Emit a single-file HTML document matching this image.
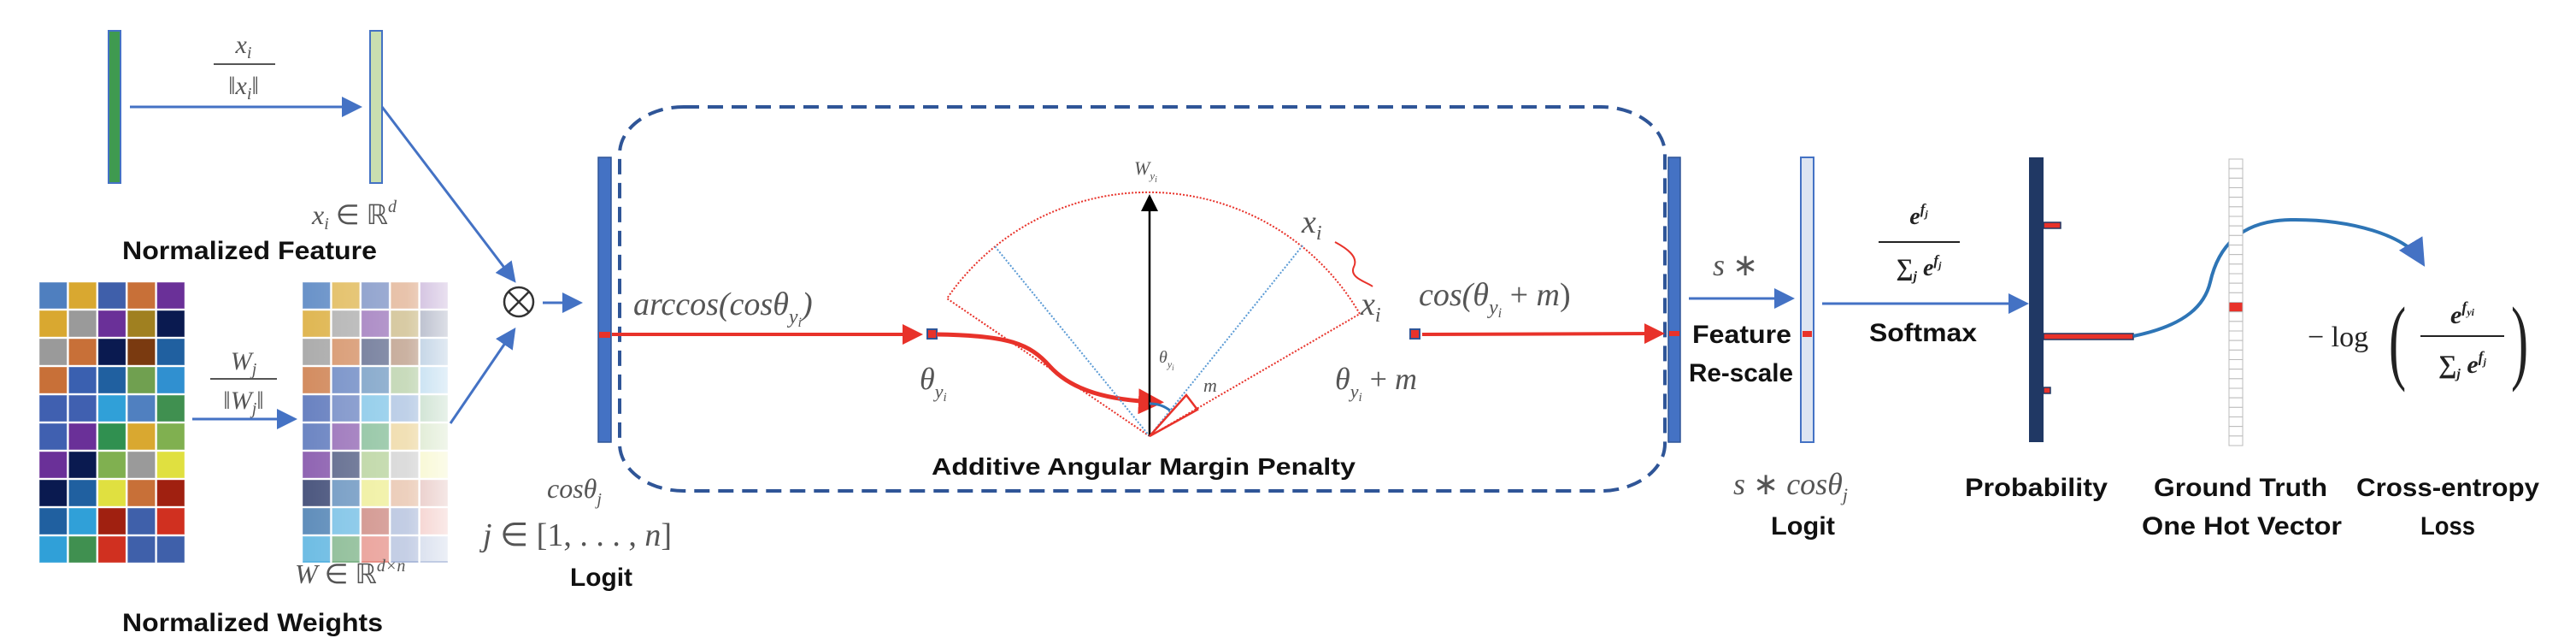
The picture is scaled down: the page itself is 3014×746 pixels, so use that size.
<!DOCTYPE html>
<html><head><meta charset="utf-8"><style>
html,body{margin:0;padding:0;background:#fff}
svg{display:block}
.m{font-family:"Liberation Serif",serif;font-style:italic;fill:#555}
.b{font-family:"Liberation Sans",sans-serif;font-weight:bold;fill:#111}
</style></head><body>
<svg id="fig" width="3014" height="746" viewBox="0 0 3014 746" xmlns="http://www.w3.org/2000/svg">
<defs>
<marker id="ab" markerWidth="8" markerHeight="8" refX="6" refY="4" orient="auto" markerUnits="strokeWidth"><path d="M0,0 L8,4 L0,8 z" fill="#4472c4"/></marker>
<marker id="ar" markerWidth="6" markerHeight="6" refX="4" refY="3" orient="auto" markerUnits="strokeWidth"><path d="M0,0 L6,3 L0,6 z" fill="#e8322a"/></marker>
<marker id="ak" markerWidth="8" markerHeight="8" refX="6" refY="4" orient="auto" markerUnits="strokeWidth"><path d="M0,0 L8,4 L0,8 z" fill="#000"/></marker>
<linearGradient id="fade" x1="0" y1="0" x2="1" y2="0"><stop offset="0" stop-color="#fff" stop-opacity="0.15"/><stop offset="0.7" stop-color="#fff" stop-opacity="0.35"/><stop offset="1" stop-color="#fff" stop-opacity="0.75"/></linearGradient>
</defs>

<!-- Feature vectors -->
<rect x="127" y="36" width="14" height="178" fill="#3f9a50" stroke="#4472c4" stroke-width="2"/>
<rect x="433" y="36" width="14" height="178" fill="#c9dfb0" stroke="#4472c4" stroke-width="2"/>
<line x1="152" y1="125" x2="418" y2="125" stroke="#4472c4" stroke-width="3" marker-end="url(#ab)"/>
<text class="m" x="285" y="62" font-size="30" text-anchor="middle">x<tspan font-size="20" dy="6">i</tspan></text>
<line x1="250" y1="75" x2="322" y2="75" stroke="#555" stroke-width="2"/>
<text class="m" x="285" y="110" font-size="30" text-anchor="middle">‖x<tspan font-size="20" dy="6">i</tspan><tspan dy="-6">‖</tspan></text>
<text class="m" x="365" y="262" font-size="32">x<tspan font-size="20" dy="6">i</tspan><tspan dy="-6" font-style="normal"> ∈ ℝ</tspan><tspan font-size="20" dy="-14">d</tspan></text>
<text class="b" x="143" y="303" font-size="30" textLength="298" lengthAdjust="spacingAndGlyphs">Normalized Feature</text>

<!-- Weight matrices -->
<g id="matL"></g>
<g id="matR"></g>
<rect x="354" y="330" width="174" height="326" fill="url(#fade)"/>
<line x1="225" y1="490" x2="342" y2="490" stroke="#4472c4" stroke-width="3" marker-end="url(#ab)"/>
<text class="m" x="285" y="432" font-size="30" text-anchor="middle">W<tspan font-size="20" dy="6">j</tspan></text>
<line x1="246" y1="443" x2="324" y2="443" stroke="#555" stroke-width="2"/>
<text class="m" x="285" y="478" font-size="30" text-anchor="middle">‖W<tspan font-size="20" dy="6">j</tspan><tspan dy="-6">‖</tspan></text>
<text class="m" x="345" y="682" font-size="32">W <tspan font-style="normal">∈ ℝ</tspan><tspan font-size="20" dy="-14">d×n</tspan></text>
<text class="b" x="143" y="738" font-size="30" textLength="305" lengthAdjust="spacingAndGlyphs">Normalized Weights</text>

<!-- product -->
<line x1="447" y1="125" x2="600" y2="326" stroke="#4472c4" stroke-width="3" marker-end="url(#ab)"/>
<line x1="527" y1="495" x2="600" y2="388" stroke="#4472c4" stroke-width="3" marker-end="url(#ab)"/>
<g><circle cx="607" cy="353" r="17" fill="none" stroke="#333" stroke-width="2.5"/><line x1="595" y1="341" x2="619" y2="365" stroke="#333" stroke-width="2.5"/><line x1="619" y1="341" x2="595" y2="365" stroke="#333" stroke-width="2.5"/></g>
<line x1="635" y1="354" x2="676" y2="354" stroke="#4472c4" stroke-width="3" marker-end="url(#ab)"/>

<!-- logit bar -->
<rect x="700" y="184" width="15" height="333" fill="#4472c4" stroke="#2f5597" stroke-width="1.5"/>
<rect x="701" y="388" width="13" height="7" fill="#e8322a"/>
<text class="m" x="640" y="582" font-size="32">cosθ<tspan font-size="20" dy="8">j</tspan></text>
<text class="m" x="565" y="638" font-size="38">j <tspan font-style="normal">∈ [1, . . . , </tspan>n<tspan font-style="normal">]</tspan></text>
<text class="b" x="667" y="685" font-size="30" textLength="73" lengthAdjust="spacingAndGlyphs">Logit</text>

<!-- dashed box -->
<rect x="725" y="125" width="1223" height="449" rx="75" ry="55" fill="none" stroke="#2f5597" stroke-width="4" stroke-dasharray="18 10"/>
<text class="m" x="741" y="368" font-size="38">arccos(cosθ<tspan font-size="24" dy="10">y</tspan><tspan font-size="16" dy="4">i</tspan><tspan dy="-14">)</tspan></text>
<line x1="716" y1="391" x2="1072" y2="391" stroke="#e8322a" stroke-width="4" marker-end="url(#ar)"/>
<rect x="1085" y="385" width="11" height="11" fill="#e8322a" stroke="#2f5597" stroke-width="2"/>
<text class="m" x="1076" y="455" font-size="36">θ<tspan font-size="22" dy="10">y</tspan><tspan font-size="15" dy="4">i</tspan></text>
<path d="M1096,391 C1180,392 1205,402 1228,428 C1255,458 1300,468 1352,470" fill="none" stroke="#e8322a" stroke-width="5" marker-end="url(#ar)"/>

<!-- fan -->
<g>
<path d="M1345,510 L1108,349 A286,286 0 0 1 1591,367 Z" fill="none" stroke="#e8322a" stroke-width="2" stroke-dasharray="2 2"/>
<line x1="1345" y1="510" x2="1164" y2="288" stroke="#5b9bd5" stroke-width="2" stroke-dasharray="2 2"/>
<line x1="1345" y1="510" x2="1525" y2="286" stroke="#5b9bd5" stroke-width="2" stroke-dasharray="2 2"/>
<line x1="1345" y1="510" x2="1345" y2="232" stroke="#000" stroke-width="2.5" marker-end="url(#ak)"/>
<path d="M1345,472 A38,38 0 0 1 1369,480" fill="none" stroke="#2e75b6" stroke-width="3"/>
<path d="M1345,510 L1388,462 L1401,479 Z" fill="none" stroke="#e8322a" stroke-width="2.5"/>
</g>
<text class="m" x="1327" y="204" font-size="22" font-style="normal">W<tspan font-size="13" dy="6">y</tspan><tspan font-size="10" dy="3">i</tspan></text>
<text class="m" x="1356" y="424" font-size="20">θ<tspan font-size="12" dy="6">y</tspan><tspan font-size="9" dy="3">i</tspan></text>
<text class="m" x="1408" y="458" font-size="22">m</text>
<text class="m" x="1523" y="272" font-size="38">x<tspan font-size="24" dy="8">i</tspan></text>
<path d="M1562,283 C1575,290 1590,300 1584,312 C1578,325 1600,330 1606,335" fill="none" stroke="#e8322a" stroke-width="2"/>
<text class="m" x="1592" y="368" font-size="38">x<tspan font-size="24" dy="8">i</tspan></text>
<text class="m" x="1660" y="357" font-size="38">cos(θ<tspan font-size="24" dy="10">y</tspan><tspan font-size="16" dy="4">i</tspan><tspan dy="-14" font-style="normal"> + </tspan>m<tspan font-style="normal">)</tspan></text>
<text class="m" x="1562" y="455" font-size="36">θ<tspan font-size="22" dy="10">y</tspan><tspan font-size="15" dy="4">i</tspan><tspan dy="-14" font-style="normal"> + </tspan>m</text>
<rect x="1650" y="385" width="11" height="11" fill="#e8322a" stroke="#2f5597" stroke-width="2"/>
<line x1="1664" y1="391" x2="1940" y2="390" stroke="#e8322a" stroke-width="4" marker-end="url(#ar)"/>
<text class="b" x="1090" y="555" font-size="28" textLength="496" lengthAdjust="spacingAndGlyphs">Additive Angular Margin Penalty</text>

<!-- feature rescale -->
<rect x="1952" y="184" width="14" height="333" fill="#4472c4" stroke="#2f5597" stroke-width="1.5"/>
<rect x="1953" y="387" width="12" height="6" fill="#e8322a"/>
<text class="m" x="2004" y="322" font-size="36">s <tspan font-style="normal">∗</tspan></text>
<line x1="1976" y1="349" x2="2094" y2="349" stroke="#4472c4" stroke-width="3" marker-end="url(#ab)"/>
<text class="b" x="1980" y="401" font-size="30" textLength="116" lengthAdjust="spacingAndGlyphs">Feature</text>
<text class="b" x="1976" y="446" font-size="30" textLength="122" lengthAdjust="spacingAndGlyphs">Re-scale</text>
<rect x="2107" y="184" width="15" height="333" fill="#dde5f2" stroke="#4472c4" stroke-width="2"/>
<rect x="2109" y="387" width="11" height="7" fill="#e8322a"/>
<text class="m" x="2028" y="578" font-size="36">s <tspan font-style="normal">∗ </tspan>cosθ<tspan font-size="22" dy="8">j</tspan></text>
<text class="b" x="2072" y="625" font-size="30" textLength="75" lengthAdjust="spacingAndGlyphs">Logit</text>

<!-- softmax -->
<line x1="2132" y1="355" x2="2368" y2="355" stroke="#4472c4" stroke-width="3" marker-end="url(#ab)"/>
<text x="2245" y="262" font-size="28" text-anchor="middle" font-family="Liberation Serif,serif" font-style="italic" font-weight="bold" fill="#222">e<tspan font-size="17" dy="-12">f</tspan><tspan font-size="12" dy="4">j</tspan></text>
<line x1="2198" y1="283" x2="2293" y2="283" stroke="#222" stroke-width="2"/>
<text x="2245" y="322" font-size="28" text-anchor="middle" font-family="Liberation Serif,serif" font-weight="bold" fill="#222">∑<tspan font-size="16" dy="6" font-style="italic">j</tspan><tspan dy="-6" font-style="italic"> e</tspan><tspan font-size="17" dy="-12" font-style="italic">f</tspan><tspan font-size="12" dy="4" font-style="italic">j</tspan></text>
<text class="b" x="2187" y="399" font-size="30" textLength="126" lengthAdjust="spacingAndGlyphs">Softmax</text>

<!-- probability -->
<rect x="2374" y="184" width="17" height="333" fill="#203864"/>
<g id="probs"></g>
<path d="M2496,393 C2560,380 2580,355 2586,330 C2595,290 2620,258 2680,257 C2750,256 2815,275 2833,305" fill="none" stroke="#2e75b6" stroke-width="4" marker-end="url(#ab)"/>
<text class="b" x="2299" y="580" font-size="30" textLength="167" lengthAdjust="spacingAndGlyphs">Probability</text>

<!-- one hot -->
<g id="onehot"></g>
<text class="b" x="2520" y="580" font-size="30" textLength="203" lengthAdjust="spacingAndGlyphs">Ground Truth</text>
<text class="b" x="2506" y="625" font-size="30" textLength="234" lengthAdjust="spacingAndGlyphs">One Hot Vector</text>

<!-- loss -->
<g>
<text x="2700" y="405" font-size="34" font-family="Liberation Serif,serif" fill="#222">− log</text>
<text x="2795" y="435" font-size="110" font-family="Liberation Serif,serif" fill="#222" transform="translate(2795 0) scale(0.55 1) translate(-2795 0)">(</text>
<text x="2881" y="378" font-size="30" text-anchor="middle" font-family="Liberation Serif,serif" font-style="italic" font-weight="bold" fill="#222">e<tspan font-size="18" dy="-13">f</tspan><tspan font-size="12" dy="4">yi</tspan></text>
<line x1="2832" y1="393" x2="2930" y2="393" stroke="#222" stroke-width="2"/>
<text x="2881" y="436" font-size="30" text-anchor="middle" font-family="Liberation Serif,serif" font-weight="bold" fill="#222">∑<tspan font-size="16" dy="6" font-style="italic">j</tspan><tspan dy="-6" font-style="italic"> e</tspan><tspan font-size="18" dy="-13" font-style="italic">f</tspan><tspan font-size="12" dy="4" font-style="italic">j</tspan></text>
<text x="2938" y="435" font-size="110" font-family="Liberation Serif,serif" fill="#222" transform="translate(2938 0) scale(0.55 1) translate(-2938 0)">)</text>
</g>
<text class="b" x="2757" y="580" font-size="30" textLength="214" lengthAdjust="spacingAndGlyphs">Cross-entropy</text>
<text class="b" x="2832" y="625" font-size="30" textLength="64" lengthAdjust="spacingAndGlyphs">Loss</text>
</svg>
<script>
const weightColors = [
 ["#4f7fbf","#d9a830","#3f5faa","#c87038","#6a3098"],
 ["#d9a830","#9a9a9a","#6a3098","#a08020","#0a1a50"],
 ["#9a9a9a","#c87038","#0a1a50","#7a3a10","#2060a0"],
 ["#c87038","#3a60b0","#2060a0","#70a050","#3090d0"],
 ["#4060b0","#4060b0","#30a0d8","#5080c0","#409050"],
 ["#4060b0","#6a3098","#309050","#d9a830","#80b050"],
 ["#6a3098","#0a1a50","#80b050","#9a9a9a","#e0e040"],
 ["#0a1a50","#2060a0","#e0e040","#c87038","#a02010"],
 ["#2060a0","#30a0d8","#a02010","#3f60aa","#d03020"],
 ["#30a0d8","#409050","#d03020","#3f60aa","#3f60aa"]
];
const probTicks = [263, 393, 456];
const probLengths = [20, 105, 8];
const oneHotRows = 30;
const oneHotIndex = 15;
const NS = "http://www.w3.org/2000/svg";
function mk(tag, attrs, parent){const e=document.createElementNS(NS,tag);for(const k in attrs)e.setAttribute(k,attrs[k]);parent.appendChild(e);return e;}
function drawMat(g, x0, y0, fadeOp){
  const cw=34.4, ch=33;
  weightColors.forEach((row,r)=>row.forEach((c,ci)=>{
    const op = fadeOp ? Math.max(0.35, 1 - ci*0.12 - r*0.02) : 1;
    const el = mk("rect",{x:x0+ci*cw,y:y0+r*ch,width:cw-2,height:ch-2,fill:c,"fill-opacity":op,stroke:"#fff","stroke-opacity":0.4,"stroke-width":1},g);
    
    
  }));
}
drawMat(document.getElementById("matL"), 46, 330, false);
drawMat(document.getElementById("matR"), 354, 330, true);
const pg = document.getElementById("probs");
probTicks.forEach((y,i)=>{
  const el = mk("rect",{x:2391,y:y-3,width:probLengths[i],height:7,fill:"#e8322a",stroke:"#203864","stroke-width":1.5},pg);
  
  
});
const og = document.getElementById("onehot");
const top0=186, cellH=(521-186)/oneHotRows;
for(let i=0;i<oneHotRows;i++){
  const el = mk("rect",{x:2608,y:top0+i*cellH,width:16,height:cellH,fill:i===oneHotIndex?"#e8322a":"#fff",stroke:"#bbb","stroke-width":1},og);
  
  
}
</script>
</body></html>
